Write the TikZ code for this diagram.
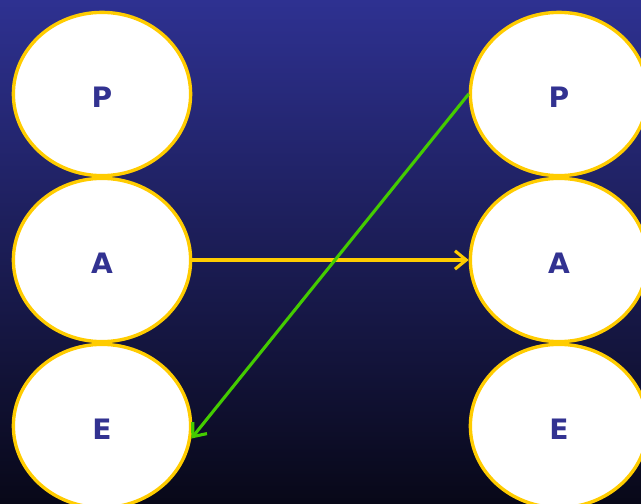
\documentclass[tikz,border=0pt]{standalone}
\usepackage{fontspec}
\setsansfont{DejaVu Sans}
\usetikzlibrary{arrows.meta, positioning, shapes.geometric}

\begin{document}
\begin{tikzpicture}[
    x=0.025cm, y=-0.025cm,
    every node/.style = {font=\sffamily\bfseries\fontsize{20}{24}\selectfont},
    role/.style = {
        ellipse,
        draw={rgb,255:red,255;green,204;blue,0},
        line width=2.4pt,
        fill=white,
        text={rgb,255:red,50;green,50;blue,145},
        minimum width=4.43cm,
        minimum height=4.08cm,
        inner sep=0pt,
        text height=0.7cm,
        text depth=0pt
    },
    arr/.style = {
        -{Straight Barb[length=8pt,width=13pt,line width=2.2pt]},
        line width=2.2pt
    }
]

%% Background
\clip (0,0) rectangle (641,504);
\shade[top color={rgb,255:red,46;green,49;blue,145},
       bottom color={rgb,255:red,8;green,8;blue,24}]
    (0,0) rectangle (641,504);

%% Left column
\node[role] (pL) at (102,94)  {P};
\node[role] (aL) at (102,260) {A};
\node[role] (eL) at (102,426) {E};

%% Right column
\node[role] (pR) at (559,94)  {P};
\node[role] (aR) at (559,260) {A};
\node[role] (eR) at (559,426) {E};

%% Arrows
\draw[arr, color={rgb,255:red,255;green,204;blue,0}] (aL.east) -- (aR.west);
\draw[arr, color={rgb,255:red,68;green,204;blue,0}] (pR.west) -- (eL.-8);

\end{tikzpicture}
\end{document}
